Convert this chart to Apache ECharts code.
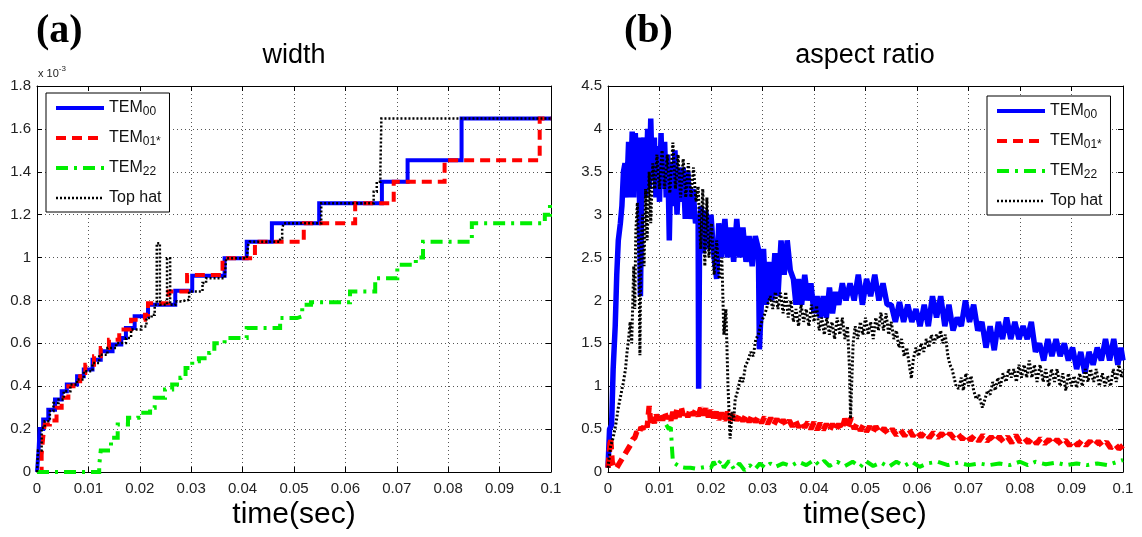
<!DOCTYPE html>
<html><head><meta charset="utf-8">
<script src="https://cdn.jsdelivr.net/npm/echarts@6/dist/echarts.min.js"></script>
<style>html,body{margin:0;padding:0;background:#fff}#c{width:1142px;height:537px}</style>
</head><body><div id="c"></div><script>
// ---------- DATA ----------
const seriesNames = ['TEM00', 'TEM01*', 'TEM22', 'Top hat'];
const xTicks = [0, 0.01, 0.02, 0.03, 0.04, 0.05, 0.06, 0.07, 0.08, 0.09, 0.1];
const widthTicks = [0, 0.2, 0.4, 0.6, 0.8, 1, 1.2, 1.4, 1.6, 1.8]; // x 10^-3
const ratioTicks = [0, 0.5, 1, 1.5, 2, 2.5, 3, 3.5, 4, 4.5];

// (a) width, x10^-3, step series [time, width]
const widthTEM00 = [[0,0],[0.0003,0.1],[0.0005,0.2],[0.0012,0.245],[0.0022,0.29],[0.0035,0.338],[0.0048,0.377],[0.0058,0.408],[0.0078,0.447],[0.0091,0.478],[0.0108,0.524],[0.0124,0.563],[0.0147,0.594],[0.0164,0.625],[0.0173,0.671],[0.019,0.726],[0.0216,0.78],[0.0269,0.845],[0.0302,0.915],[0.0365,0.997],[0.0408,1.074],[0.0457,1.16],[0.0549,1.253],[0.0671,1.353],[0.0721,1.454],[0.0826,1.648],[0.1,1.648]];
const widthTEM01 = [[0,0],[0.0009,0.08],[0.0012,0.16],[0.0015,0.222],[0.0025,0.24],[0.0038,0.30],[0.0048,0.346],[0.0061,0.40],[0.0071,0.423],[0.0084,0.462],[0.0094,0.50],[0.0111,0.54],[0.0124,0.578],[0.014,0.617],[0.016,0.664],[0.0183,0.71],[0.021,0.733],[0.0216,0.787],[0.0256,0.842],[0.0292,0.919],[0.0361,0.997],[0.0424,1.074],[0.0519,1.16],[0.0619,1.253],[0.0694,1.353],[0.0793,1.454],[0.0978,1.648],[0.1,1.648]];
const widthTEM22 = [[0,0],[0.0121,0.03],[0.0124,0.1],[0.0144,0.16],[0.0157,0.222],[0.0177,0.253],[0.0197,0.276],[0.022,0.30],[0.0229,0.346],[0.0249,0.385],[0.0263,0.408],[0.0279,0.439],[0.0289,0.485],[0.0302,0.516],[0.0315,0.531],[0.0335,0.555],[0.0345,0.60],[0.0365,0.625],[0.0408,0.671],[0.0473,0.718],[0.0506,0.726],[0.0516,0.78],[0.0533,0.792],[0.0609,0.842],[0.0658,0.904],[0.0701,0.966],[0.0737,1.0],[0.0751,1.074],[0.0846,1.16],[0.0988,1.2],[0.0998,1.253],[0.1,1.253]];
const widthTopHat = [[0,0],[0.0002,0.1],[0.0009,0.206],[0.0015,0.237],[0.0025,0.284],[0.0032,0.322],[0.0042,0.338],[0.0052,0.377],[0.0065,0.408],[0.0078,0.431],[0.0091,0.47],[0.0108,0.508],[0.0121,0.547],[0.0137,0.578],[0.0154,0.601],[0.0173,0.625],[0.0183,0.664],[0.0203,0.679],[0.0213,0.718],[0.0223,0.733],[0.0229,0.78],[0.0233,1.067],[0.0239,0.78],[0.0249,0.78],[0.0253,0.997],[0.0259,0.78],[0.0269,0.795],[0.0279,0.803],[0.0296,0.842],[0.0322,0.881],[0.0329,0.904],[0.0365,0.912],[0.0368,0.997],[0.0408,0.997],[0.0411,1.059],[0.0414,1.074],[0.0457,1.074],[0.0473,1.09],[0.0477,1.136],[0.048,1.16],[0.0553,1.253],[0.0648,1.253],[0.0655,1.307],[0.0661,1.353],[0.0668,1.4],[0.0670,1.648],[0.1,1.648]];

// (b) aspect ratio [time, ratio]
const ratioTEM00 = [[0,0.05],[0.0003,0.5],[0.0007,0.55],[0.001,1.2],[0.0014,1.7],[0.0017,2.3],[0.002,2.7],[0.0024,2.9],[0.0027,3.1],[0.003,3.5],[0.0033,3.6],[0.0036,3.2],[0.004,3.85],[0.0043,3.2],[0.0047,3.97],[0.005,3.2],[0.0053,3.95],[0.0057,3.3],[0.006,3.9],[0.0063,2.05],[0.0066,3.5],[0.007,3.9],[0.0073,3.2],[0.0077,4.0],[0.008,3.3],[0.0083,4.12],[0.0086,3.4],[0.009,3.9],[0.0093,3.2],[0.0096,3.8],[0.01,3.15],[0.0103,3.95],[0.0106,3.3],[0.011,3.85],[0.0113,3.2],[0.0116,3.7],[0.0119,2.7],[0.0122,3.6],[0.0126,3.1],[0.013,3.75],[0.0134,3.0],[0.0138,3.55],[0.0142,3.15],[0.0146,3.55],[0.015,2.95],[0.0155,3.5],[0.016,2.95],[0.0165,3.3],[0.017,2.9],[0.0175,3.0],[0.0176,0.97],[0.0178,2.9],[0.0181,3.1],[0.0185,2.55],[0.019,3.05],[0.0195,2.6],[0.02,3.0],[0.0205,2.55],[0.0211,2.25],[0.0215,2.9],[0.022,2.5],[0.0227,2.95],[0.0232,2.5],[0.0238,2.85],[0.0244,2.45],[0.025,2.95],[0.0256,2.5],[0.0262,2.85],[0.0268,2.45],[0.0274,2.75],[0.028,2.4],[0.0286,2.75],[0.0292,2.6],[0.0294,1.43],[0.0298,2.0],[0.0302,2.6],[0.0307,1.95],[0.0312,2.45],[0.0318,2.0],[0.0324,2.55],[0.033,2.05],[0.0336,2.7],[0.0342,2.3],[0.0348,2.7],[0.0354,2.35],[0.036,2.25],[0.0365,1.95],[0.037,2.25],[0.0376,1.95],[0.0382,2.3],[0.0388,2.0],[0.0394,2.2],[0.04,1.85],[0.0406,2.05],[0.0412,1.8],[0.0418,2.05],[0.0424,1.8],[0.043,2.15],[0.0436,1.85],[0.0442,2.1],[0.0448,1.95],[0.0455,2.2],[0.0462,2.0],[0.047,2.2],[0.0478,2.0],[0.0486,2.3],[0.0494,1.95],[0.0502,2.25],[0.051,2.05],[0.0518,2.3],[0.0526,2.0],[0.0534,2.2],[0.0542,1.95],[0.055,1.95],[0.0558,1.75],[0.0566,1.98],[0.0574,1.75],[0.0582,1.95],[0.059,1.75],[0.0598,1.9],[0.0606,1.7],[0.0614,1.95],[0.0622,1.7],[0.063,2.05],[0.0638,1.8],[0.0646,2.05],[0.0654,1.7],[0.0662,1.95],[0.067,1.65],[0.0678,1.8],[0.0686,1.7],[0.0694,2.0],[0.0702,1.75],[0.071,1.95],[0.0718,1.65],[0.0726,1.75],[0.0734,1.45],[0.0742,1.7],[0.075,1.42],[0.0758,1.75],[0.0766,1.55],[0.0774,1.8],[0.0782,1.55],[0.079,1.75],[0.0798,1.55],[0.0806,1.7],[0.0814,1.55],[0.0822,1.75],[0.083,1.4],[0.0838,1.5],[0.0846,1.3],[0.0854,1.55],[0.0862,1.35],[0.087,1.55],[0.0878,1.35],[0.0886,1.5],[0.0894,1.3],[0.0902,1.45],[0.091,1.2],[0.0918,1.4],[0.0926,1.15],[0.0934,1.4],[0.0942,1.25],[0.095,1.45],[0.0958,1.3],[0.0966,1.55],[0.0974,1.3],[0.0982,1.55],[0.099,1.25],[0.0996,1.45],[0.1,1.3]];
const ratioTEM01 = [[0,0.05],[0.0005,0.4],[0.0008,0.12],[0.0012,0.05],[0.0016,0.04],[0.002,0.08],[0.0024,0.12],[0.0028,0.16],[0.0032,0.2],[0.0036,0.24],[0.004,0.28],[0.0044,0.32],[0.0048,0.38],[0.0052,0.4],[0.0056,0.47],[0.006,0.44],[0.0064,0.52],[0.0068,0.5],[0.0072,0.58],[0.0076,0.52],[0.008,0.77],[0.0083,0.56],[0.0086,0.64],[0.009,0.57],[0.0094,0.67],[0.0098,0.6],[0.0102,0.68],[0.0106,0.6],[0.011,0.7],[0.0114,0.62],[0.0118,0.67],[0.0122,0.6],[0.0126,0.7],[0.013,0.62],[0.0134,0.74],[0.0138,0.64],[0.0142,0.76],[0.0146,0.66],[0.015,0.72],[0.0155,0.64],[0.016,0.74],[0.0165,0.66],[0.017,0.72],[0.0175,0.65],[0.018,0.75],[0.0185,0.66],[0.019,0.74],[0.0195,0.64],[0.02,0.72],[0.0205,0.63],[0.021,0.7],[0.0215,0.61],[0.022,0.69],[0.0226,0.6],[0.0232,0.7],[0.0238,0.6],[0.0244,0.7],[0.025,0.6],[0.0256,0.68],[0.0262,0.59],[0.0268,0.67],[0.0274,0.58],[0.028,0.67],[0.0286,0.58],[0.0292,0.65],[0.0298,0.57],[0.0304,0.64],[0.031,0.56],[0.0316,0.63],[0.0322,0.55],[0.0328,0.62],[0.0334,0.54],[0.034,0.61],[0.0346,0.54],[0.0352,0.6],[0.0358,0.53],[0.0364,0.6],[0.037,0.52],[0.0376,0.59],[0.0382,0.52],[0.0388,0.58],[0.0394,0.5],[0.04,0.58],[0.0406,0.49],[0.0412,0.57],[0.0418,0.49],[0.0424,0.56],[0.043,0.48],[0.0436,0.56],[0.0442,0.48],[0.0448,0.56],[0.0454,0.49],[0.046,0.62],[0.0466,0.53],[0.0472,0.63],[0.0478,0.5],[0.0484,0.57],[0.049,0.48],[0.0496,0.55],[0.0502,0.47],[0.0508,0.53],[0.0514,0.46],[0.052,0.53],[0.0528,0.45],[0.0536,0.51],[0.0544,0.44],[0.0552,0.5],[0.056,0.43],[0.0568,0.49],[0.0576,0.42],[0.0584,0.5],[0.0592,0.42],[0.06,0.48],[0.0608,0.41],[0.0616,0.47],[0.0624,0.4],[0.0632,0.46],[0.064,0.4],[0.0648,0.45],[0.0656,0.39],[0.0664,0.45],[0.0672,0.39],[0.068,0.44],[0.0688,0.38],[0.0696,0.44],[0.0704,0.37],[0.0712,0.43],[0.072,0.36],[0.0728,0.43],[0.0736,0.36],[0.0744,0.41],[0.0752,0.35],[0.076,0.41],[0.0768,0.35],[0.0776,0.41],[0.0784,0.34],[0.0792,0.43],[0.08,0.35],[0.0808,0.4],[0.0816,0.34],[0.0824,0.4],[0.0832,0.33],[0.084,0.39],[0.0848,0.33],[0.0856,0.38],[0.0864,0.32],[0.0872,0.38],[0.088,0.32],[0.0888,0.37],[0.0896,0.31],[0.0904,0.37],[0.0912,0.31],[0.092,0.37],[0.0928,0.31],[0.0936,0.36],[0.0944,0.3],[0.0952,0.36],[0.096,0.3],[0.0968,0.35],[0.0976,0.28],[0.0984,0.33],[0.0992,0.27],[0.1,0.31]];
const ratioTEM22 = [[0.0113,0.55],[0.0118,0.5],[0.0122,0.52],[0.0124,0.3],[0.0126,0.12],[0.013,0.1],[0.014,0.06],[0.015,0.05],[0.016,0.05],[0.017,0.04],[0.018,0.05],[0.019,0.06],[0.02,0.05],[0.0205,0.12],[0.021,0.06],[0.022,0.14],[0.0225,0.05],[0.0235,0.13],[0.0245,0.03],[0.0255,0.1],[0.0265,0.02],[0.0275,0.08],[0.0285,0.03],[0.0295,0.1],[0.0305,0.05],[0.0315,0.1],[0.0325,0.06],[0.034,0.1],[0.0355,0.07],[0.037,0.12],[0.0385,0.08],[0.04,0.14],[0.041,0.08],[0.042,0.13],[0.043,0.07],[0.0445,0.12],[0.046,0.07],[0.0475,0.12],[0.049,0.06],[0.05,0.13],[0.0515,0.07],[0.053,0.11],[0.0545,0.06],[0.056,0.12],[0.0575,0.07],[0.059,0.12],[0.0605,0.06],[0.062,0.1],[0.064,0.12],[0.066,0.08],[0.068,0.11],[0.07,0.08],[0.072,0.1],[0.074,0.08],[0.076,0.1],[0.078,0.08],[0.08,0.12],[0.0815,0.08],[0.083,0.12],[0.085,0.09],[0.087,0.11],[0.089,0.08],[0.091,0.1],[0.093,0.08],[0.095,0.1],[0.097,0.08],[0.099,0.12],[0.1,0.14]];
const ratioTopHat = [[0,0.05],[0.0005,0.3],[0.001,0.4],[0.0015,0.55],[0.002,0.75],[0.0025,0.9],[0.003,1.05],[0.0034,1.2],[0.0037,1.4],[0.004,1.55],[0.0043,1.75],[0.0046,1.5],[0.005,2.4],[0.0052,1.9],[0.0054,2.8],[0.0057,3.14],[0.006,2.5],[0.0062,1.36],[0.0064,2.6],[0.0067,3.0],[0.007,2.4],[0.0073,3.3],[0.0076,2.7],[0.008,3.5],[0.0083,2.9],[0.0087,3.6],[0.0091,3.3],[0.0095,3.7],[0.01,3.3],[0.0105,3.75],[0.011,3.3],[0.0115,3.7],[0.012,3.25],[0.0126,3.84],[0.0131,3.3],[0.0136,3.7],[0.0141,3.2],[0.0146,3.65],[0.0151,3.2],[0.0156,3.6],[0.0161,3.2],[0.0166,3.55],[0.0171,3.15],[0.0175,3.33],[0.018,2.6],[0.0184,3.3],[0.0188,2.4],[0.0192,3.2],[0.0196,2.5],[0.0201,2.9],[0.0206,2.3],[0.0211,2.7],[0.0216,2.25],[0.0221,2.5],[0.0225,1.6],[0.0229,1.9],[0.0233,1.0],[0.0237,0.39],[0.0241,0.7],[0.0244,0.6],[0.0247,0.85],[0.0252,0.95],[0.0257,1.1],[0.0262,1.05],[0.0267,1.24],[0.0272,1.3],[0.0277,1.4],[0.0282,1.35],[0.0287,1.55],[0.0292,1.6],[0.0296,1.7],[0.03,1.78],[0.0305,1.85],[0.031,1.95],[0.0315,2.05],[0.032,1.9],[0.0325,2.1],[0.033,1.9],[0.0335,2.09],[0.034,1.85],[0.0345,2.1],[0.035,1.8],[0.0355,2.0],[0.036,1.75],[0.0365,1.9],[0.037,1.7],[0.0375,1.95],[0.038,1.75],[0.0385,1.9],[0.039,1.7],[0.0395,1.95],[0.04,1.75],[0.0405,1.94],[0.041,1.65],[0.0415,1.8],[0.042,1.6],[0.0425,1.8],[0.043,1.6],[0.0435,1.75],[0.044,1.55],[0.0445,1.8],[0.045,1.6],[0.0455,1.8],[0.046,1.55],[0.0465,1.7],[0.0469,1.2],[0.0471,0.62],[0.0473,1.0],[0.0476,1.5],[0.048,1.7],[0.0485,1.55],[0.049,1.75],[0.0495,1.6],[0.05,1.8],[0.0505,1.6],[0.051,1.75],[0.0515,1.55],[0.052,1.8],[0.0525,1.65],[0.053,1.86],[0.0535,1.65],[0.054,1.85],[0.0545,1.6],[0.055,1.75],[0.0555,1.55],[0.056,1.65],[0.0565,1.45],[0.057,1.55],[0.0575,1.35],[0.058,1.45],[0.0585,1.25],[0.0589,1.09],[0.0593,1.32],[0.0598,1.45],[0.0603,1.35],[0.0608,1.5],[0.0613,1.4],[0.0618,1.55],[0.0623,1.45],[0.0628,1.6],[0.0633,1.5],[0.0638,1.6],[0.0642,1.55],[0.0646,1.65],[0.065,1.5],[0.0655,1.6],[0.066,1.35],[0.0664,1.25],[0.0668,1.2],[0.0672,1.1],[0.0676,1.0],[0.0681,0.97],[0.0686,1.1],[0.069,0.95],[0.0695,1.15],[0.07,1.0],[0.0705,1.12],[0.071,0.95],[0.0715,0.85],[0.072,0.9],[0.0727,0.75],[0.0732,0.85],[0.0737,0.95],[0.0742,0.9],[0.0747,1.05],[0.0752,0.95],[0.0757,1.1],[0.0762,1.0],[0.0767,1.15],[0.0773,1.05],[0.0778,1.2],[0.0783,1.1],[0.0788,1.2],[0.0793,1.05],[0.0798,1.25],[0.0803,1.1],[0.0808,1.25],[0.0813,1.1],[0.0818,1.3],[0.0823,1.1],[0.0828,1.25],[0.0833,1.05],[0.0839,1.25],[0.0845,1.05],[0.085,1.2],[0.0856,1.0],[0.0861,1.2],[0.0867,1.05],[0.0872,1.2],[0.0878,1.0],[0.0883,1.15],[0.0889,0.95],[0.0894,1.15],[0.09,1.0],[0.0905,1.12],[0.091,0.98],[0.0916,1.15],[0.0921,1.0],[0.0927,1.2],[0.0932,1.05],[0.0937,1.2],[0.0943,1.05],[0.0948,1.2],[0.0954,1.0],[0.096,1.15],[0.0965,1.0],[0.097,1.12],[0.0976,1.0],[0.0981,1.2],[0.0987,1.05],[0.0992,1.25],[0.0997,1.1],[0.1,1.2]];

// ---------- STYLE / CHART ----------
const FONT = '"Liberation Sans", Arial, sans-serif';
const styles = {
  'TEM00': {color: '#0000ff', width: 4, type: 'solid'},
  'TEM01*': {color: '#ff0000', width: 4, type: [10, 6]},
  'TEM22': {color: '#00ee00', width: 4, type: [12, 6, 3, 6]},
  'Top hat': {color: '#000000', width: 2.5, type: [2, 2]}
};
const legendText = {
  'TEM00': '{m|TEM}{s|00}',
  'TEM01*': '{m|TEM}{s|01*}',
  'TEM22': '{m|TEM}{s|22}',
  'Top hat': '{m|Top hat}'
};
const fmt = (d) => (v) => String(+v.toFixed(d));

function axisPair(gi, ticks, dec, isX, showLabel, pos) {
  return {
    type: 'value', gridIndex: gi, position: pos,
    min: ticks[0], max: ticks[ticks.length - 1], interval: ticks[1] - ticks[0],
    axisLine: {show: true, onZero: false, lineStyle: {color: '#000', width: 1}},
    axisTick: {show: true, inside: true, length: 5, lineStyle: {color: '#000'}},
    axisLabel: {show: showLabel, formatter: fmt(dec), fontFamily: FONT, fontSize: 15, color: '#222', margin: isX ? 9 : 6},
    splitLine: {show: showLabel, lineStyle: {color: '#555', type: [1, 3], width: 1}}
  };
}

const xAxis = [
  axisPair(0, xTicks, 2, true, true, 'bottom'),
  axisPair(0, xTicks, 2, true, false, 'top'),
  axisPair(1, xTicks, 2, true, true, 'bottom'),
  axisPair(1, xTicks, 2, true, false, 'top')
];
const yAxis = [
  axisPair(0, widthTicks, 1, false, true, 'left'),
  axisPair(0, widthTicks, 1, false, false, 'right'),
  axisPair(1, ratioTicks, 1, false, true, 'left'),
  axisPair(1, ratioTicks, 1, false, false, 'right')
];

function mkSeries(name, data, xi, yi, step, extraWidth) {
  const s = styles[name];
  return {
    name, type: 'line', data, xAxisIndex: xi, yAxisIndex: yi,
    step: step ? 'end' : false, symbol: 'none', animation: false,
    lineStyle: {color: s.color, width: s.width + (extraWidth || 0), type: s.type, cap: 'butt', join: step ? 'miter' : 'bevel'},
    itemStyle: {color: s.color}
  };
}

const series = [
  mkSeries('TEM00', widthTEM00, 0, 0, true),
  mkSeries('TEM01*', widthTEM01, 0, 0, true),
  mkSeries('TEM22', widthTEM22, 0, 0, true),
  mkSeries('Top hat', widthTopHat, 0, 0, true),
  mkSeries('TEM00', ratioTEM00, 2, 2, false, 1.5),
  mkSeries('TEM01*', ratioTEM01, 2, 2, false, 1.5),
  mkSeries('TEM22', ratioTEM22, 2, 2, false),
  mkSeries('Top hat', ratioTopHat, 2, 2, false, 0.5)
];

function mkLegend(left, top) {
  return {
    data: seriesNames, orient: 'vertical', left, top,
    itemWidth: 48, itemHeight: 12, itemGap: 12,
    padding: [7, 8, 6, 8],
    borderColor: '#000', borderWidth: 1, backgroundColor: '#fff',
    itemStyle: {opacity: 0},
    lineStyle: {width: 'inherit'},
    selectedMode: false,
    formatter: (n) => legendText[n],
    textStyle: {
      color: '#111', fontFamily: FONT,
      rich: {
        m: {fontSize: 16, fontFamily: FONT, color: '#111', lineHeight: 20, verticalAlign: 'middle'},
        s: {fontSize: 12, fontFamily: FONT, color: '#111', lineHeight: 10, verticalAlign: 'bottom'}
      }
    }
  };
}

const chart = echarts.init(document.getElementById('c'));
chart.setOption({
  animation: false,
  backgroundColor: '#fff',
  grid: [
    {left: 37, top: 86, width: 514, height: 386},
    {left: 608, top: 86, width: 515, height: 386}
  ],
  xAxis, yAxis, series,
  legend: [mkLegend(46, 93), mkLegend(987, 96)],
  graphic: [
    {type: 'text', x: 36, y: 32, style: {text: '(a)', font: 'bold 40px "Liberation Serif", "Times New Roman", serif', fill: '#000', align: 'left', verticalAlign: 'middle'}},
    {type: 'text', x: 624, y: 32, style: {text: '(b)', font: 'bold 40px "Liberation Serif", "Times New Roman", serif', fill: '#000', align: 'left', verticalAlign: 'middle'}},
    {type: 'text', x: 294, y: 56, style: {text: 'width', font: '27px ' + FONT, fill: '#000', align: 'center', verticalAlign: 'middle'}},
    {type: 'text', x: 865, y: 56, style: {text: 'aspect ratio', font: '27px ' + FONT, fill: '#000', align: 'center', verticalAlign: 'middle'}},
    {type: 'text', x: 294, y: 515, style: {text: 'time(sec)', font: '30px ' + FONT, fill: '#000', align: 'center', verticalAlign: 'middle'}},
    {type: 'text', x: 865, y: 515, style: {text: 'time(sec)', font: '30px ' + FONT, fill: '#000', align: 'center', verticalAlign: 'middle'}},
    {type: 'text', x: 38, y: 72, style: {text: '{a|x 10}{b|-3}', fill: '#222', align: 'left', verticalAlign: 'middle',
      rich: {a: {fontSize: 11, fontFamily: FONT, lineHeight: 14, verticalAlign: 'bottom', fill: '#222'}, b: {fontSize: 8, fontFamily: FONT, lineHeight: 8, verticalAlign: 'top', fill: '#222'}}}}
  ]
});
</script></body></html>
